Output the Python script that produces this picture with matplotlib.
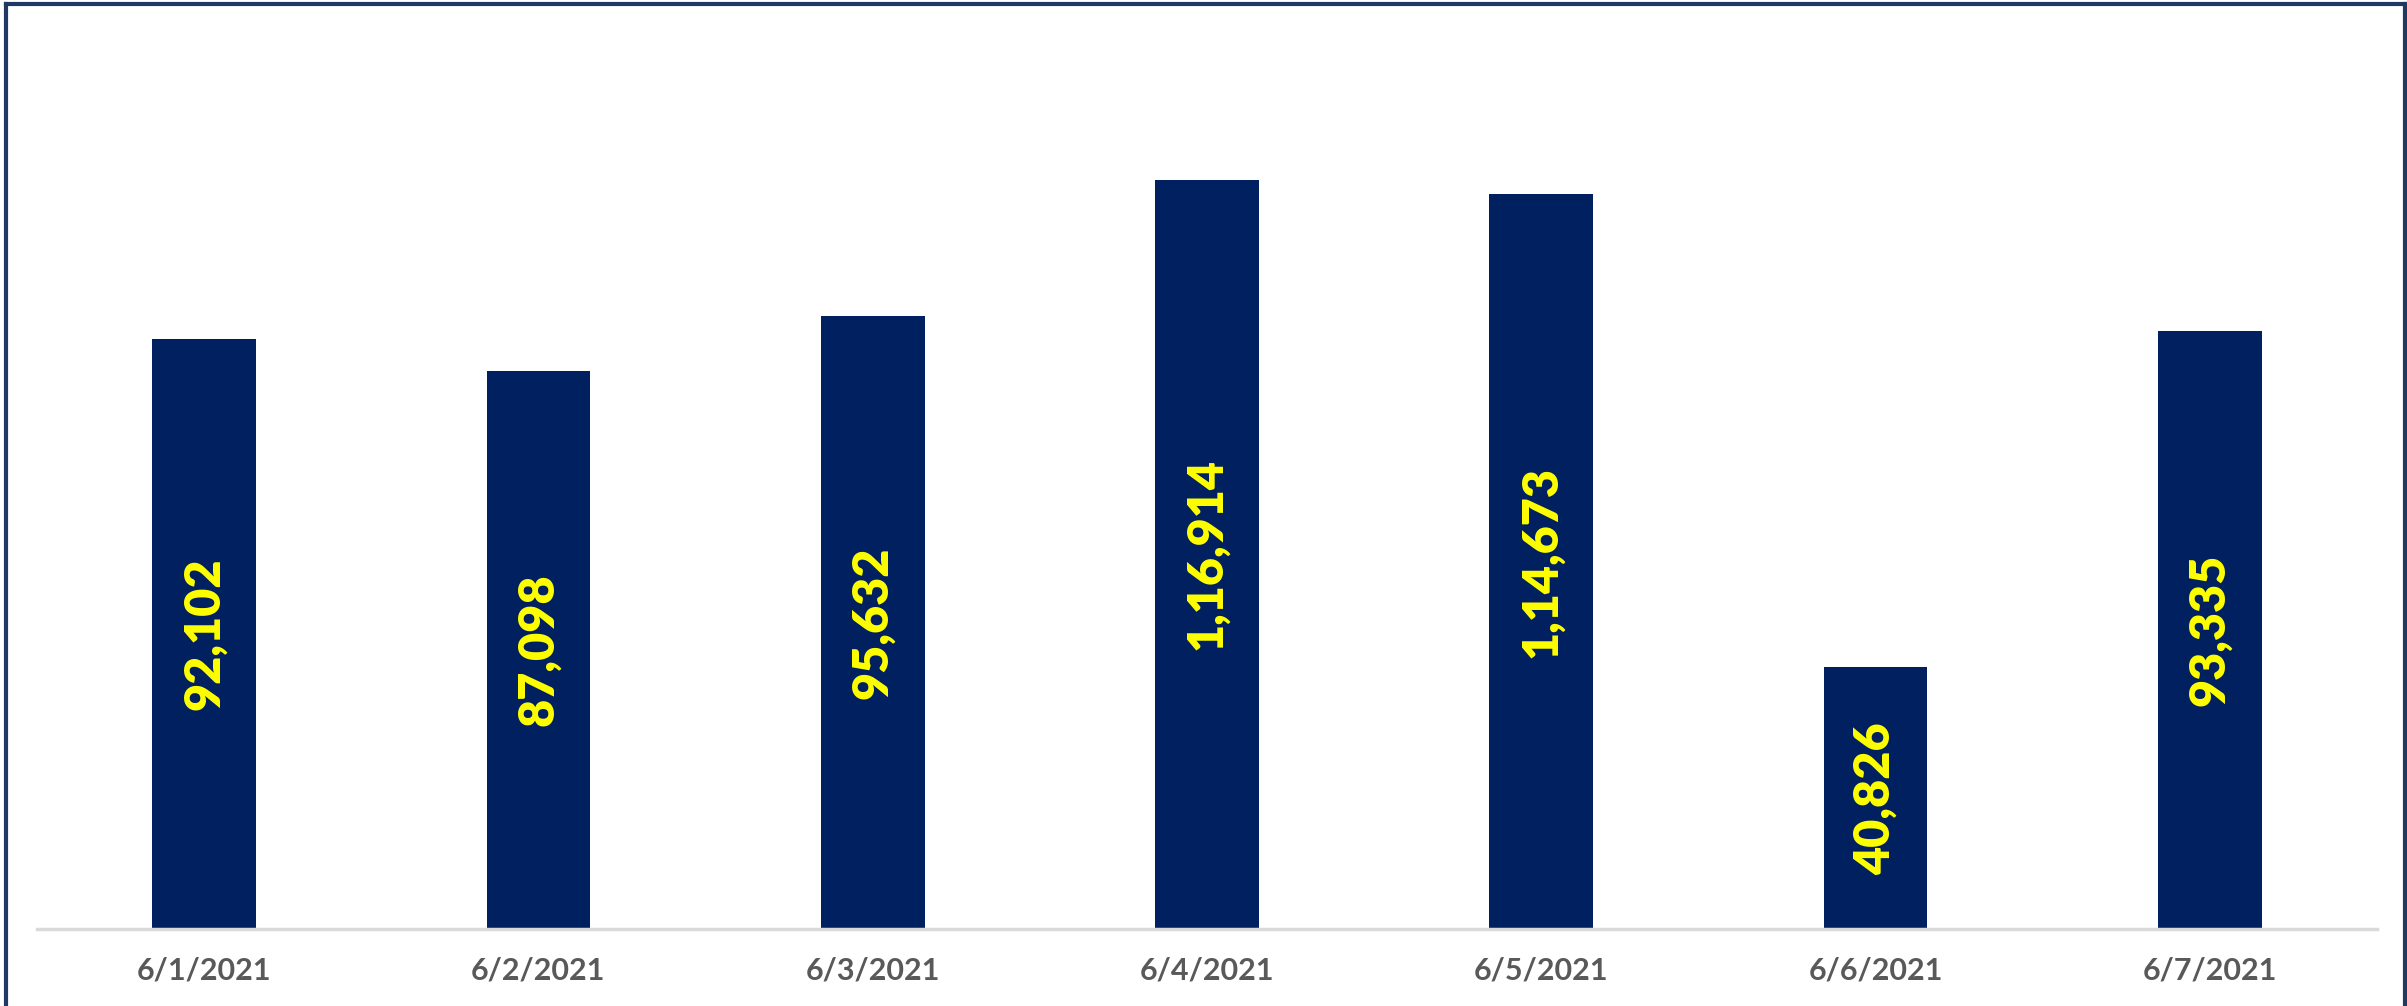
import matplotlib.pyplot as plt
from matplotlib.lines import Line2D

dates = ['6/1/2021', '6/2/2021', '6/3/2021', '6/4/2021', '6/5/2021', '6/6/2021', '6/7/2021']
values = [92102, 87098, 95632, 116914, 114673, 40826, 93335]
labels = ['92,102', '87,098', '95,632', '1,16,914', '1,14,673', '40,826', '93,335']

W, H = 2407, 1006
fig = plt.figure(figsize=(W / 100, H / 100), dpi=100)
ax = fig.add_axes([37 / W, 1 - 929 / H, (2377 - 37) / W, (929 - 32) / H])

x = range(len(dates))
bars = ax.bar(x, values, width=0.31, color='#002060', zorder=2)

for b, txt in zip(bars, labels):
    ax.text(b.get_x() + b.get_width() / 2, b.get_height() / 2, txt,
            rotation=90, ha='center', va='center', color='#FFFF00',
            fontsize=35, fontweight='heavy', family='Lato')

ax.set_xlim(-0.5, len(dates) - 0.5)
ax.set_ylim(0, 140000)
ax.set_xticks(list(x))
ax.set_xticklabels(dates, fontsize=22, fontweight='bold', color='#595959', family='Lato')
ax.tick_params(axis='x', length=0, pad=20)
ax.set_yticks([])
for s in ['top', 'left', 'right']:
    ax.spines[s].set_visible(False)
ax.spines['bottom'].set_color('#D9D9D9')
ax.spines['bottom'].set_linewidth(2.5)

# outer chart frame (bottom edge is cut off in the original)
col = '#1F3864'
fig.add_artist(Line2D([6 / W, 6 / W], [0, 1 - 4 / H], color=col, lw=3, transform=fig.transFigure))
fig.add_artist(Line2D([6 / W, 2405 / W], [1 - 4 / H, 1 - 4 / H], color=col, lw=3, transform=fig.transFigure))
fig.add_artist(Line2D([2405 / W, 2405 / W], [0, 1 - 4 / H], color=col, lw=3, transform=fig.transFigure))

fig.savefig('out.png', dpi=100)
